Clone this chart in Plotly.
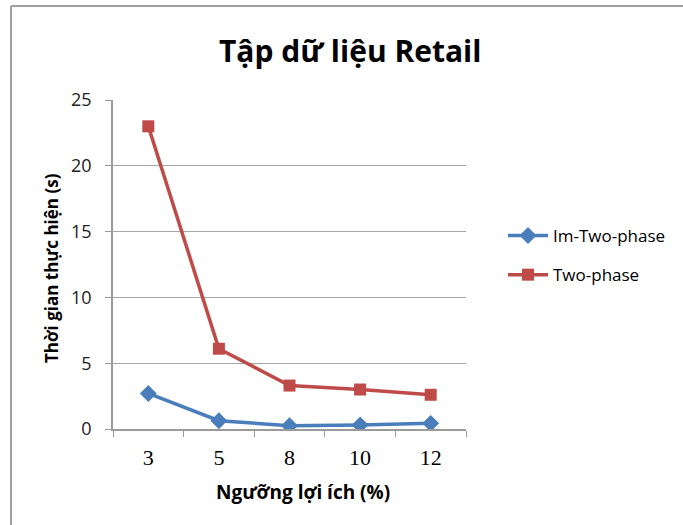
import plotly.graph_objects as go

categories = ["3", "5", "8", "10", "12"]
im_two_phase = [2.7, 0.63, 0.25, 0.3, 0.43]
two_phase = [23.0, 6.1, 3.3, 3.0, 2.6]
series_names = ["Im-Two-phase", "Two-phase"]

W, H = 683, 525
L, R, T, B = 113, 466, 100, 429
pw, ph = R - L, B - T

def px(x):
    return (x - L) / pw

def py(y):
    return (B - y) / ph

fig = go.Figure()
fig.add_trace(go.Scatter(
    x=categories, y=im_two_phase, name=series_names[0], mode="lines+markers",
    line=dict(color="#4a7ebb", width=3.5),
    marker=dict(symbol="diamond", size=13, color="#4a7ebb"),
    legendgroup="a",
))
fig.add_trace(go.Scatter(
    x=categories, y=two_phase, name=series_names[1], mode="lines+markers",
    line=dict(color="#be4b48", width=3.5),
    marker=dict(symbol="square", size=12, color="#be4b48"),
    legendgroup="b",
))

fig.update_layout(
    width=W, height=H,
    margin=dict(l=L, r=W - R, t=T, b=H - B),
    paper_bgcolor="white", plot_bgcolor="white",
    showlegend=True,
    legend=dict(x=px(503), y=py(218), xanchor="left", yanchor="top",
                font=dict(family="Open Sans, sans-serif", size=17, color="#000000"),
                tracegroupgap=14, itemwidth=40, bgcolor="rgba(0,0,0,0)"),
    xaxis=dict(
        type="category", range=[-0.5, 4.5],
        showline=True, linecolor="#9a9a9a", linewidth=1.5,
        ticks="outside", tickson="boundaries", ticklen=6, tickcolor="#9a9a9a",
        showgrid=False, ticklabelstandoff=8,
        tickfont=dict(family="Liberation Serif, serif", size=22, color="#000000"),
    ),
    yaxis=dict(
        range=[0, 25], dtick=5,
        showline=True, linecolor="#9a9a9a", linewidth=1.5,
        ticks="outside", ticklen=6, tickcolor="#9a9a9a",
        showgrid=True, gridcolor="#a6a6a6", gridwidth=1.2,
        zeroline=False, ticklabelstandoff=10,
        tickfont=dict(family="Open Sans, sans-serif", size=18, color="#222222"),
    ),
)

fig.add_annotation(
    text="<b>Tập dữ liệu Retail</b>", xref="paper", yref="paper",
    x=px(350), y=py(50), xanchor="center", yanchor="middle", showarrow=False,
    font=dict(family="Open Sans, sans-serif", size=30, color="#000000"),
)
fig.add_annotation(
    text="<b>Ngưỡng lợi ích (%)</b>", xref="paper", yref="paper",
    x=px(303), y=py(492), xanchor="center", yanchor="middle", showarrow=False,
    font=dict(family="Open Sans, sans-serif", size=19, color="#000000"),
)
fig.add_annotation(
    text="<b>Thời gian thực hiện (s)</b>", xref="paper", yref="paper",
    x=px(51), y=py(268), xanchor="center", yanchor="middle", showarrow=False,
    textangle=-90,
    font=dict(family="Open Sans, sans-serif", size=17, color="#000000"),
)

# outer chart frame (left and top edges visible)
fig.add_shape(type="line", xref="paper", yref="paper",
              x0=px(11), x1=px(11), y0=py(6), y1=py(540),
              line=dict(color="#a0a0a0", width=2))
fig.add_shape(type="line", xref="paper", yref="paper",
              x0=px(11), x1=px(700), y0=py(6), y1=py(6),
              line=dict(color="#a0a0a0", width=2))

fig.write_html("out.html")
